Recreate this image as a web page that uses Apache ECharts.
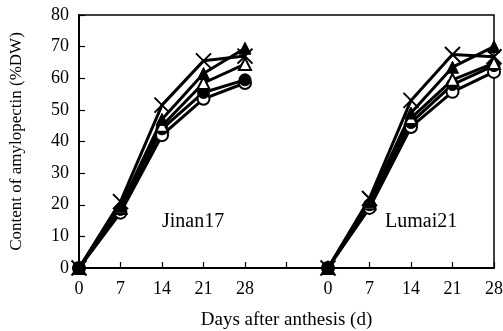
<!DOCTYPE html>
<html>
<head>
<meta charset="utf-8">
<script src="https://cdn.jsdelivr.net/npm/echarts@6/dist/echarts.min.js"></script>
<style>html,body{margin:0;padding:0;background:#fff}#c{width:503px;height:331px}</style>
</head>
<body>
<div id="c"></div>
<script>
var days = [0, 7, 14, 21, 28];
var panelOffset = { Jinan17: 0, Lumai21: 42 };
var yTicks = [0, 10, 20, 30, 40, 50, 60, 70, 80];

var jinanCross = [0, 21, 51.5, 65.5, 67];
var jinanFilledTri = [0, 19.5, 47, 61.5, 69.5];
var jinanOpenTri = [0, 19, 45, 58.5, 64.5];
var jinanFilledCircle = [0, 18.5, 44, 55.5, 59.5];
var jinanOpenCircle = [0, 17.5, 42, 53.5, 58.5];

var lumaiCross = [0, 22, 53, 67.5, 66.8];
var lumaiFilledTri = [0, 21, 49, 63.5, 70];
var lumaiOpenTri = [0, 20.5, 47.4, 59.5, 64.8];
var lumaiFilledCircle = [0, 20, 46, 58, 64];
var lumaiOpenCircle = [0, 19, 44.6, 55.7, 62];

var FONT = 'Liberation Serif';
var crossPath = 'path://M0,0L10,10M10,0L0,10';

function pts(vals, off) { return days.map(function (d, i) { return [d + off, vals[i]]; }); }

var styles = {
  filledCircle: { symbol: 'circle', size: 12, item: { color: '#000', borderColor: '#000', borderWidth: 1 } },
  openCircle: { symbol: 'circle', size: 12, item: { color: '#fff', borderColor: '#000', borderWidth: 2 } },
  filledTri: { symbol: 'triangle', size: 12, item: { color: '#000', borderColor: '#000', borderWidth: 1 } },
  openTri: { symbol: 'triangle', size: 12, item: { color: '#fff', borderColor: '#000', borderWidth: 2 } },
  cross: { symbol: crossPath, size: 15, item: { color: 'transparent', borderColor: '#000', borderWidth: 2 } }
};

function mk(name, vals, off, key) {
  var s = styles[key];
  return {
    name: name, type: 'line', data: pts(vals, off),
    symbol: s.symbol, symbolSize: s.size, showSymbol: true,
    lineStyle: { color: '#000', width: 3 },
    itemStyle: s.item, animation: false, z: 3
  };
}

var series = [
  mk('J-oc', jinanOpenCircle, panelOffset.Jinan17, 'openCircle'),
  mk('J-fc', jinanFilledCircle, panelOffset.Jinan17, 'filledCircle'),
  mk('J-ot', jinanOpenTri, panelOffset.Jinan17, 'openTri'),
  mk('J-ft', jinanFilledTri, panelOffset.Jinan17, 'filledTri'),
  mk('J-x', jinanCross, panelOffset.Jinan17, 'cross'),
  mk('L-oc', lumaiOpenCircle, panelOffset.Lumai21, 'openCircle'),
  mk('L-fc', lumaiFilledCircle, panelOffset.Lumai21, 'filledCircle'),
  mk('L-ot', lumaiOpenTri, panelOffset.Lumai21, 'openTri'),
  mk('L-ft', lumaiFilledTri, panelOffset.Lumai21, 'filledTri'),
  mk('L-x', lumaiCross, panelOffset.Lumai21, 'cross')
];

var chart = echarts.init(document.getElementById('c'), null, { renderer: 'canvas' });
chart.setOption({
  backgroundColor: '#fff',
  animation: false,
  grid: { left: 79, right: 9, top: 15, bottom: 63, containLabel: false, outerBoundsMode: 'none',
    show: true, borderColor: '#000', borderWidth: 1.5, backgroundColor: 'transparent' },
  xAxis: {
    type: 'value', min: 0, max: 70, interval: 7,
    name: 'Days after anthesis (d)', nameLocation: 'middle', nameGap: 43,
    nameTextStyle: { fontFamily: FONT, fontSize: 19, color: '#000' },
    axisLine: { show: true, lineStyle: { color: '#000', width: 2 } },
    axisTick: { show: true, inside: true, length: 6, lineStyle: { color: '#000', width: 1.2 } },
    splitLine: { show: false },
    axisLabel: {
      fontFamily: FONT, fontSize: 18, color: '#000', margin: 12,
      formatter: function (v) {
        if (v <= 28) return String(v);
        if (v >= panelOffset.Lumai21) return String(v - panelOffset.Lumai21);
        return '';
      }
    }
  },
  yAxis: {
    type: 'value', min: 0, max: 80, interval: 10,
    name: 'Content of amylopectin (%DW)', nameLocation: 'middle', nameGap: 54,
    nameTextStyle: { fontFamily: FONT, fontSize: 17, color: '#000' },
    axisLine: { show: true, lineStyle: { color: '#000', width: 2 } },
    axisTick: { show: true, inside: true, length: 6, lineStyle: { color: '#000', width: 1.2 } },
    splitLine: { show: false },
    axisLabel: { fontFamily: FONT, fontSize: 18, color: '#000', margin: 10,
      formatter: function (v) { return yTicks.indexOf(v) >= 0 ? String(v) : ''; } }
  },
  graphic: [
    { type: 'text', left: 162, top: 212, style: { text: 'Jinan17', font: '20px "Liberation Serif"', fill: '#000' } },
    { type: 'text', left: 385, top: 212, style: { text: 'Lumai21', font: '20px "Liberation Serif"', fill: '#000' } }
  ],
  series: series
});
</script>
</body>
</html>
